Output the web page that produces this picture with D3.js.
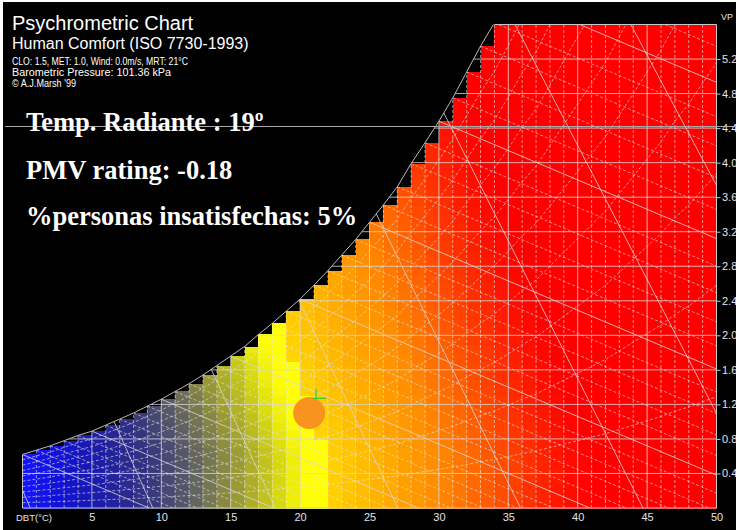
<!DOCTYPE html>
<html>
<head>
<meta charset="utf-8">
<title>Psychrometric Chart</title>
<script src="https://cdn.jsdelivr.net/npm/d3@7"></script>
<style>
  body { margin: 0; background: #fff; }
  svg { display: block; }
</style>
</head>
<body>
<div id="container"></div>
<script>
// axis ticks
const dbtTicks = [5, 10, 15, 20, 25, 30, 35, 40, 45, 50];
const vpTicks = [0.4, 0.8, 1.2, 1.6, 2.0, 2.4, 2.8, 3.2, 3.6, 4.0, 4.4, 4.8, 5.2];

// saturation vapour pressure (kPa) at each whole degree 0..50
const satVP = [0.62, 0.67, 0.72, 0.78, 0.84, 0.89, 0.96, 1.03, 1.10, 1.18,
  1.26, 1.35, 1.44, 1.54, 1.65, 1.76, 1.87, 2.01, 2.14, 2.28,
  2.42, 2.58, 2.75, 2.93, 3.11, 3.31, 3.51, 3.72, 3.99, 4.23,
  4.48, 4.75, 5.05, 5.35, 5.62, 5.95, 6.30, 6.60, 7.00, 7.40,
  7.80, 8.20, 8.60, 9.10, 9.60, 10.1, 10.6, 11.2, 11.7, 12.3, 12.9];

// relative humidity curves
const rhLines = [0.1, 0.2, 0.3, 0.4, 0.5, 0.6, 0.7, 0.8, 0.9];
// wet bulb lines (solid every 5, dashed in between)
const wetBulbSolid = [0, 5, 10, 15, 20, 25, 30, 35];
const wetBulbDashed = [1, 2, 3, 4, 6, 7, 8, 9, 11, 12, 13, 14, 16, 17, 18, 19,
  21, 22, 23, 24, 26, 27, 28, 29, 31, 32, 33, 34, 36, 37, 38, 39];
// specific volume lines (m3/kg)
const specVolumes = [0.775, 0.8, 0.825, 0.85, 0.875, 0.9, 0.925, 0.95];

// comfort colour ramp (effective temperature -> colour)
const rampTemps = [0, 3, 6, 9, 12, 14, 16, 18, 19.5, 20.5, 21.99, 22, 25, 27.5, 30, 33, 36, 39, 41];
const rampColors = ['#1414ff', '#1212d2', '#1e1ea2', '#33337f', '#5c5c66', '#7e7e4a',
  '#a4a42e', '#cccc18', '#eeee06', '#ffff00', '#ffff00', '#ffd400', '#ffb800',
  '#ffa000', '#ff8a00', '#ff6200', '#ff3800', '#ff1000', '#ff0000'];

const comfortPoint = {dbt: 20.65, vp: 1.1};
const cursorPoint = {dbt: 21.15, vp: 1.27};

const headerLines = [
  {text: 'Psychrometric Chart', size: 20, y: 30},
  {text: 'Human Comfort (ISO 7730-1993)', size: 16, y: 49},
  {text: 'CLO: 1.5, MET: 1.0, Wind: 0.0m/s, MRT: 21°C', size: 10, y: 65, len: 176},
  {text: 'Barometric Pressure: 101.36 kPa', size: 10, y: 76, len: 159},
  {text: '© A.J.Marsh \'99', size: 10, y: 86.5, len: 64}
];
const overlayLines = [
  {text: 'Temp. Radiante : 19º', y: 131},
  {text: 'PMV rating: -0.18', y: 179},
  {text: '%personas insatisfechas: 5%', y: 225}
];

const width = 736, height = 530;
const vpMax = 5.6;
const pressure = 101.36, rAir = 0.287;
const wbSlope = 0.068;
const cellVP = 0.1;
// how far the comfort colours lean towards cooler air as humidity rises
const humidShift = 2.2, humidPivot = 0.6;

const svg = d3.select('#container').append('svg')
  .attr('width', width)
  .attr('height', height);

svg.append('rect')
  .attr('x', 3).attr('y', 2)
  .attr('width', width - 3).attr('height', height - 2)
  .attr('fill', '#000');

const x = d3.scaleLinear().domain([0, 50]).range([22.5, 716.5]);
const y = d3.scaleLinear().domain([0, vpMax]).range([508, 24.5]);

const colour = d3.scaleLinear().domain(rampTemps).range(rampColors).clamp(true);

// area under the saturation curve
const regionPts = [[0, 0]];
satVP.forEach((v, t) => regionPts.push([t, Math.min(v, vpMax)]));
regionPts.push([50, 0]);

const defs = svg.append('defs');
defs.append('clipPath').attr('id', 'region')
  .append('path')
  .attr('d', d3.line().x(d => x(d[0])).y(d => y(d[1]))(regionPts) + 'Z');
defs.append('clipPath').attr('id', 'plot')
  .append('rect')
  .attr('x', x(0)).attr('y', y(vpMax))
  .attr('width', x(50) - x(0)).attr('height', y(0) - y(vpMax));

// coloured comfort cells
const cells = [];
d3.range(0, 50).forEach(t => {
  const top = Math.min(satVP[t], vpMax);
  for (let r = 0; r * cellVP < top - 1e-6; r++) {
    const v0 = r * cellVP;
    const v1 = Math.min(v0 + cellVP, top);
    cells.push({t, v0, v1});
  }
});

const cellColour = d => {
  const vm = (d.v0 + d.v1) / 2;
  return colour(d.t + 0.5 + humidShift * Math.max(0, vm - humidPivot));
};

svg.append('g')
  .attr('shape-rendering', 'crispEdges')
  .selectAll('rect')
  .data(cells)
  .join('rect')
    .attr('x', d => x(d.t))
    .attr('y', d => y(d.v1))
    .attr('width', d => x(d.t + 1) - x(d.t) + 0.6)
    .attr('height', d => y(d.v0) - y(d.v1) + 0.6)
    .attr('fill', cellColour);

// chart lines, clipped under the curve
const lines = svg.append('g').attr('clip-path', 'url(#region)');
const solid = 'rgba(215,215,215,0.8)';
const dashed = 'rgba(230,230,230,0.6)';

lines.selectAll('.vdash')
  .data(d3.range(1, 50).filter(t => t % 5 !== 0))
  .join('line')
    .attr('x1', d => x(d)).attr('x2', d => x(d))
    .attr('y1', y(0)).attr('y2', y(vpMax))
    .attr('stroke', dashed).attr('stroke-dasharray', '3,2');

lines.selectAll('.vsolid')
  .data(dbtTicks)
  .join('line')
    .attr('x1', d => x(d)).attr('x2', d => x(d))
    .attr('y1', y(0)).attr('y2', y(vpMax))
    .attr('stroke', solid);

lines.selectAll('.hsolid')
  .data(vpTicks)
  .join('line')
    .attr('x1', x(0)).attr('x2', x(50))
    .attr('y1', d => y(d)).attr('y2', d => y(d))
    .attr('stroke', solid);

const rhLine = rh => d3.line()
  .x((v, t) => x(t))
  .y((v, t) => y(rh * v))(satVP);

lines.selectAll('.rh')
  .data(rhLines)
  .join('path')
    .attr('d', rhLine)
    .attr('fill', 'none')
    .attr('stroke', dashed).attr('stroke-dasharray', '3,2');

const wbLine = wb => {
  const v = satVP[wb];
  return [x(wb), y(v), x(wb + v / wbSlope), y(0)];
};

lines.selectAll('.wbd')
  .data(wetBulbDashed)
  .join('line')
    .attr('x1', d => wbLine(d)[0]).attr('y1', d => wbLine(d)[1])
    .attr('x2', d => wbLine(d)[2]).attr('y2', d => wbLine(d)[3])
    .attr('stroke', dashed).attr('stroke-dasharray', '3,2');

lines.selectAll('.wbs')
  .data(wetBulbSolid)
  .join('line')
    .attr('x1', d => wbLine(d)[0]).attr('y1', d => wbLine(d)[1])
    .attr('x2', d => wbLine(d)[2]).attr('y2', d => wbLine(d)[3])
    .attr('stroke', solid);

const svT = (sv, vp) => sv * (pressure - vp) / rAir - 273.15;
lines.selectAll('.sv')
  .data(specVolumes)
  .join('line')
    .attr('x1', d => x(svT(d, 0))).attr('y1', y(0))
    .attr('x2', d => x(svT(d, vpMax))).attr('y2', y(vpMax))
    .attr('stroke', solid);

// saturation curve
svg.append('path')
  .attr('clip-path', 'url(#plot)')
  .attr('d', d3.line().x((v, t) => x(t)).y(v => y(v))(satVP))
  .attr('fill', 'none')
  .attr('stroke', '#b8b8b8');

// frame
const topStart = satVP.findIndex(v => v >= vpMax);
const frame = svg.append('g').attr('stroke', '#c8c8c8');
frame.append('line').attr('x1', x(0)).attr('x2', x(50)).attr('y1', y(0)).attr('y2', y(0));
frame.append('line').attr('x1', x(50)).attr('x2', x(50)).attr('y1', y(0)).attr('y2', y(vpMax));
frame.append('line').attr('x1', x(topStart)).attr('x2', x(50)).attr('y1', y(vpMax)).attr('y2', y(vpMax));
frame.append('line').attr('x1', x(0)).attr('x2', x(0)).attr('y1', y(0)).attr('y2', y(satVP[0]));

// axes
const axisFont = '"Liberation Sans", Arial, sans-serif';
const rightAxis = svg.append('g')
  .attr('transform', `translate(${x(50)},0)`)
  .call(d3.axisRight(y).tickValues(vpTicks).tickFormat(d3.format('.1f')).tickSize(4).tickPadding(1.5));
const bottomAxis = svg.append('g')
  .attr('transform', `translate(0,${y(0)})`)
  .call(d3.axisBottom(x).tickValues(dbtTicks).tickSize(0).tickPadding(5));

[rightAxis, bottomAxis].forEach(a => {
  a.select('.domain').remove();
  a.selectAll('.tick line').attr('stroke', '#c8c8c8');
  a.selectAll('text')
    .attr('fill', '#e4e4e4')
    .style('font-family', axisFont)
    .style('font-size', '11px');
});

svg.append('text')
  .attr('x', 16).attr('y', 520.5)
  .attr('fill', '#e4e4e4')
  .style('font-family', axisFont).style('font-size', '9.5px')
  .text('DBT(°C)');

svg.append('text')
  .attr('x', 721).attr('y', 20)
  .attr('fill', '#e4e4e4')
  .style('font-family', axisFont).style('font-size', '9px')
  .text('VP');

// comfort point and cursor
svg.append('circle')
  .attr('cx', x(comfortPoint.dbt))
  .attr('cy', y(comfortPoint.vp))
  .attr('r', 16)
  .attr('fill', '#f7931e');

const cx = x(cursorPoint.dbt), cy = y(cursorPoint.vp);
svg.append('path')
  .attr('d', `M${cx},${cy - 9}V${cy}M${cx - 3},${cy}H${cx + 10}`)
  .attr('stroke', '#2ecc2e')
  .attr('stroke-width', 1.2)
  .attr('fill', 'none');

// header text
svg.append('g').selectAll('text')
  .data(headerLines)
  .join('text')
    .attr('x', 12)
    .attr('y', d => d.y)
    .attr('fill', '#fff')
    .style('font-family', axisFont)
    .style('font-size', d => d.size + 'px')
    .attr('textLength', d => d.len || null)
    .attr('lengthAdjust', 'spacingAndGlyphs')
    .text(d => d.text);

// page line and overlay text
svg.append('line')
  .attr('x1', 5).attr('x2', width)
  .attr('y1', 126.5).attr('y2', 126.5)
  .attr('stroke', '#a8a8a8');

svg.append('g').selectAll('text')
  .data(overlayLines)
  .join('text')
    .attr('x', 26)
    .attr('y', d => d.y)
    .attr('fill', '#fff')
    .style('font-family', '"Liberation Serif", "Times New Roman", serif')
    .style('font-weight', 'bold')
    .style('font-size', '26.5px')
    .text(d => d.text);
</script>
</body>
</html>
